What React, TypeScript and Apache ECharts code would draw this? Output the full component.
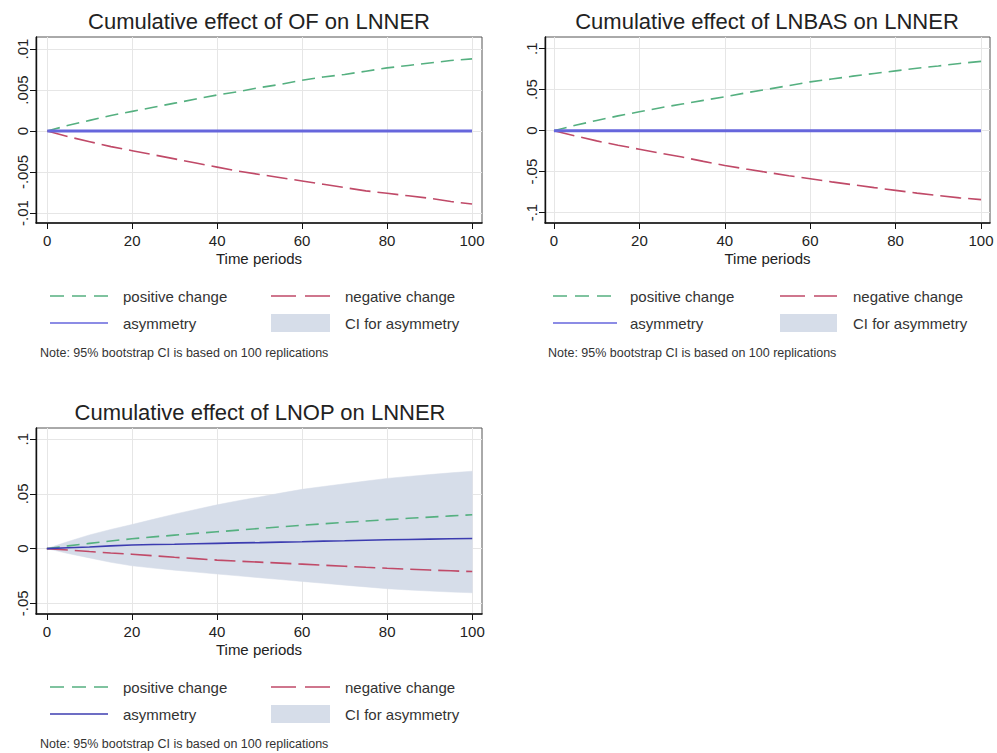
import React, { useEffect, useRef } from "react";
import * as echarts from "echarts";

// ---------- data ----------
const periods = [0, 5, 10, 15, 20, 25, 30, 35, 40, 45, 50, 55, 60, 65, 70, 75, 80, 85, 90, 95, 100];

const ofPositive = [0, 0.0007, 0.0013, 0.0019, 0.0024, 0.0029, 0.0034, 0.0039, 0.0044, 0.0048, 0.0053, 0.0057, 0.0062, 0.0066, 0.0069, 0.0073, 0.0077, 0.008, 0.0083, 0.0086, 0.0088];
const ofNegative = [0, -0.0007, -0.0013, -0.0019, -0.0024, -0.0029, -0.0034, -0.0039, -0.0044, -0.0049, -0.0053, -0.0057, -0.0061, -0.0065, -0.0069, -0.0073, -0.0076, -0.0079, -0.0082, -0.0086, -0.0089];
const ofAsymmetry = [0, 0, 0, 0, 0, 0, 0, 0, 0, 0, 0, 0, 0, 0, 0, 0, 0, 0, 0, 0, 0];

const lnbasPositive = [0, 0.0065, 0.0125, 0.018, 0.023, 0.028, 0.0325, 0.037, 0.0413, 0.0462, 0.0505, 0.055, 0.0595, 0.063, 0.0665, 0.0698, 0.073, 0.0762, 0.079, 0.082, 0.0846];
const lnbasNegative = [0, -0.0065, -0.0125, -0.0178, -0.0227, -0.0277, -0.0322, -0.0375, -0.0425, -0.0468, -0.051, -0.055, -0.0587, -0.0625, -0.066, -0.0695, -0.0729, -0.0762, -0.0792, -0.082, -0.0842];
const lnbasAsymmetry = [0, 0, 0, 0, 0, 0, 0, 0, 0, 0, 0, 0, 0, 0, 0, 0, 0, 0, 0, 0, 0];

const lnopPositive = [0, 0.0025, 0.0048, 0.007, 0.009, 0.0107, 0.0123, 0.0139, 0.0154, 0.0169, 0.0184, 0.0199, 0.0214, 0.0227, 0.024, 0.0252, 0.0265, 0.0277, 0.0288, 0.0299, 0.031];
const lnopNegative = [0, -0.0013, -0.0027, -0.004, -0.0051, -0.0065, -0.0079, -0.0092, -0.0105, -0.0115, -0.0124, -0.0133, -0.0142, -0.0152, -0.0161, -0.0171, -0.018, -0.0188, -0.0196, -0.0203, -0.021];
const lnopAsymmetry = [0, 0.0008, 0.0015, 0.0025, 0.0033, 0.0037, 0.004, 0.0044, 0.0048, 0.0052, 0.0055, 0.0059, 0.0063, 0.0068, 0.0072, 0.0077, 0.0081, 0.0084, 0.0087, 0.009, 0.0093];
const lnopCiUpper = [0, 0.0065, 0.0125, 0.0175, 0.022, 0.0268, 0.0315, 0.0358, 0.04, 0.0438, 0.0472, 0.0508, 0.0542, 0.0568, 0.0593, 0.0618, 0.0642, 0.066, 0.0677, 0.0693, 0.0708];
const lnopCiLower = [0, -0.0045, -0.0085, -0.0125, -0.0157, -0.0178, -0.0197, -0.0215, -0.0232, -0.0249, -0.0266, -0.0283, -0.03, -0.0317, -0.0334, -0.035, -0.0367, -0.0378, -0.0388, -0.0397, -0.0404];

const xTicks = [0, 20, 40, 60, 80, 100];
const ofYTicks = [-0.01, -0.005, 0, 0.005, 0.01];
const lnbasYTicks = [-0.1, -0.05, 0, 0.05, 0.1];
const lnopYTicks = [-0.05, 0, 0.05, 0.1];

const titles = ["Cumulative effect of OF on LNNER", "Cumulative effect of LNBAS on LNNER", "Cumulative effect of LNOP on LNNER"];
const legendLabels = ["positive change", "negative change", "asymmetry", "CI for asymmetry"];
const noteText = "Note: 95% bootstrap CI is based on 100 replications";
const xName = "Time periods";

// ---------- styling ----------
const FONT = "'Liberation Sans', Arial, Helvetica, sans-serif";
const NARROW = "'Liberation Sans Narrow', 'Arial Narrow', 'Liberation Sans', sans-serif";
const GREEN = "#55b080";
const RED = "#c04a68";
const BLUE_LIGHT = "#6666dc";
const BLUE_DARK = "#3c3cb0";
const CI_FILL = "#d6dde9";
const GREEN_DASH = [13, 7];
const RED_DASH = [21, 7];

const pairs = (ys: number[]) => periods.map((p, i) => [p, ys[i]]);

const fmtY = (v: number) => {
  if (Math.abs(v) < 1e-12) return "0";
  const s = String(+v.toFixed(6));
  return s.replace(/^(-?)0\./, "$1.");
};

function makeX(gridIndex: number, min: number, max: number) {
  return {
    type: "value",
    gridIndex,
    min,
    max,
    axisLine: { show: true, onZero: false, lineStyle: { color: "#111", width: 1.6 } },
    axisTick: { show: true, length: 6, customValues: xTicks, lineStyle: { color: "#111", width: 1 } },
    axisLabel: { customValues: xTicks, margin: 10, fontSize: 15, color: "#222", fontFamily: FONT },
    splitLine: { show: true, lineStyle: { color: "#e6e6e6", width: 1 } },
    name: xName,
    nameLocation: "middle",
    nameGap: 28,
    nameTextStyle: { fontSize: 15, color: "#222", fontFamily: FONT },
  };
}

function makeY(gridIndex: number, min: number, max: number, ticks: number[]) {
  return {
    type: "value",
    gridIndex,
    min,
    max,
    axisLine: { show: true, onZero: false, lineStyle: { color: "#111", width: 1.4 } },
    axisTick: { show: true, length: 6, customValues: ticks, lineStyle: { color: "#111", width: 1 } },
    axisLabel: { customValues: ticks, rotate: 90, margin: 6, fontSize: 15, color: "#222", fontFamily: FONT, formatter: fmtY },
    splitLine: { show: true, lineStyle: { color: "#e6e6e6", width: 1 } },
  };
}

function dashed(name: string, idx: number, ys: number[], color: string, dash: number[]) {
  return {
    name,
    type: "line",
    xAxisIndex: idx,
    yAxisIndex: idx,
    data: pairs(ys),
    symbol: "none",
    lineStyle: { color, width: 1.6, type: dash },
    z: 3,
  };
}

function solid(name: string, idx: number, ys: number[], color: string, width: number) {
  return {
    name,
    type: "line",
    xAxisIndex: idx,
    yAxisIndex: idx,
    data: pairs(ys),
    symbol: "none",
    lineStyle: { color, width },
    z: 4,
  };
}

function ciBand(idx: number, lower: number[], upper: number[]) {
  return {
    name: legendLabels[3],
    type: "custom",
    xAxisIndex: idx,
    yAxisIndex: idx,
    silent: true,
    z: 1,
    data: periods.map((p, i) => [p, lower[i], upper[i]]),
    encode: { x: 0, y: [1, 2] },
    renderItem: (params: any, api: any) => {
      if (params.dataIndex !== 0) return null;
      const top = periods.map((p, i) => api.coord([p, upper[i]]));
      const bottom = periods.map((p, i) => api.coord([p, lower[i]])).reverse();
      return {
        type: "polygon",
        shape: { points: top.concat(bottom) },
        style: { fill: CI_FILL, stroke: CI_FILL, lineWidth: 0.5 },
      };
    },
  };
}

function legendGraphics(x0: number, y0: number, asymColor: string, lineStart: number[], textX: number[]) {
  const [a1, a2, b1, b2] = lineStart;
  const [t1, t2] = textX;
  const row1 = y0;
  const row2 = y0 + 27;
  const txt = (x: number, y: number, text: string) => ({
    type: "text",
    x,
    y,
    style: { text, fontSize: 15, fill: "#333", fontFamily: FONT, align: "left", verticalAlign: "middle" },
  });
  return [
    { type: "line", shape: { x1: a1, y1: row1, x2: a2, y2: row1 }, style: { stroke: GREEN, lineWidth: 1.4, lineDash: [14, 8] } },
    txt(t1, row1, legendLabels[0]),
    { type: "line", shape: { x1: b1, y1: row1, x2: b2, y2: row1 }, style: { stroke: RED, lineWidth: 1.4, lineDash: [25, 9] } },
    txt(t2, row1, legendLabels[1]),
    { type: "line", shape: { x1: a1, y1: row2, x2: a2, y2: row2 }, style: { stroke: asymColor, lineWidth: 1.6 } },
    txt(t1, row2, legendLabels[2]),
    { type: "rect", shape: { x: b1, y: row2 - 9, width: b2 - b1, height: 18 }, style: { fill: CI_FILL } },
    txt(t2, row2, legendLabels[3]),
    {
      type: "text",
      x: x0,
      y: row2 + 30,
      style: { text: noteText, fontSize: 12.5, fill: "#333", fontFamily: NARROW, align: "left", verticalAlign: "middle" },
    },
  ];
}

function titleText(cx: number, cy: number, text: string) {
  return {
    type: "text",
    x: cx,
    y: cy,
    style: { text, fontSize: 22, fill: "#222", fontFamily: FONT, align: "center", verticalAlign: "middle" },
  };
}

export default function App() {
  const ref = useRef<HTMLDivElement>(null);
  useEffect(() => {
    if (!ref.current) return;
    const chart = echarts.init(ref.current, null, { renderer: "svg" });
    const option: any = {
      animation: false,
      backgroundColor: "#ffffff",
      grid: [
        { left: 36, top: 37, width: 446, height: 186, show: true, borderColor: "#555", borderWidth: 1, backgroundColor: "#fff" },
        { left: 545, top: 37, width: 445, height: 186, show: true, borderColor: "#555", borderWidth: 1, backgroundColor: "#fff" },
        { left: 36, top: 428, width: 446, height: 186, show: true, borderColor: "#555", borderWidth: 1, backgroundColor: "#fff" },
      ],
      xAxis: [makeX(0, -2.65, 102.35), makeX(1, -2.1, 102.1), makeX(2, -2.55, 102.3)],
      yAxis: [
        makeY(0, -0.01122, 0.01147, ofYTicks),
        makeY(1, -0.1127, 0.1143, lnbasYTicks),
        makeY(2, -0.0598, 0.1103, lnopYTicks),
      ],
      series: [
        // panel 1
        dashed(legendLabels[0], 0, ofPositive, GREEN, GREEN_DASH),
        dashed(legendLabels[1], 0, ofNegative, RED, RED_DASH),
        solid(legendLabels[2], 0, ofAsymmetry, BLUE_LIGHT, 3),
        // panel 2
        dashed(legendLabels[0], 1, lnbasPositive, GREEN, GREEN_DASH),
        dashed(legendLabels[1], 1, lnbasNegative, RED, RED_DASH),
        solid(legendLabels[2], 1, lnbasAsymmetry, BLUE_LIGHT, 3),
        // panel 3
        ciBand(2, lnopCiLower, lnopCiUpper),
        dashed(legendLabels[0], 2, lnopPositive, GREEN, GREEN_DASH),
        dashed(legendLabels[1], 2, lnopNegative, RED, RED_DASH),
        solid(legendLabels[2], 2, lnopAsymmetry, BLUE_DARK, 1.6),
      ],
      graphic: [
        titleText(259, 21.5, titles[0]),
        titleText(767, 21.5, titles[1]),
        titleText(260, 412.5, titles[2]),
        ...legendGraphics(40, 296, BLUE_LIGHT, [50, 108, 271, 330], [123, 345]),
        ...legendGraphics(548, 296, BLUE_LIGHT, [553, 617, 780, 837], [630, 853]),
        ...legendGraphics(40, 687, BLUE_DARK, [50, 108, 271, 330], [123, 345]),
      ],
    };
    chart.setOption(option);
    return () => chart.dispose();
  }, []);
  return <div ref={ref} style={{ position: "absolute", left: 0, top: 0, width: 997, height: 753 }} />;
}
